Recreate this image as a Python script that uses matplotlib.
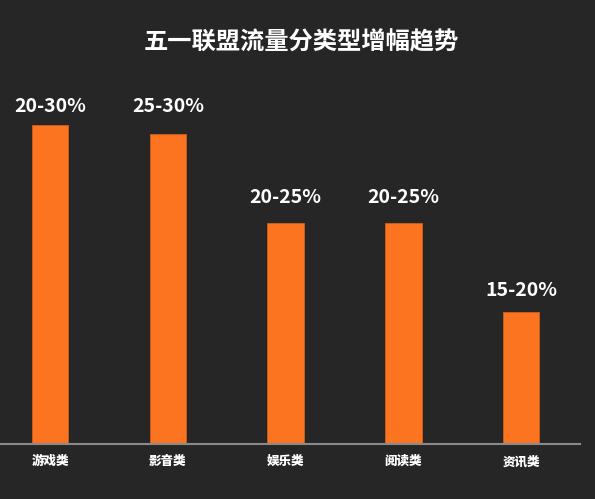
import matplotlib
matplotlib.use('Agg')
import matplotlib.pyplot as plt

# chart data
categories = ['游戏类', '影音类', '娱乐类', '阅读类', '资讯类']
heights = [31.9, 31.0, 22.1, 22.1, 13.2]  # bar heights
labels = ['20-30%', '25-30%', '20-25%', '20-25%', '15-20%']
title = '五一联盟流量分类型增幅趋势'

# gap between bar top and label centre, in points
label_gaps = [13, 19.5, 18.5, 18.5, 15.5]

plt.rcParams['font.family'] = ['Noto Sans CJK SC', 'DejaVu Sans']

bg = '#262626'
bar_color = '#FC7420'

fig = plt.figure(figsize=(5.95, 4.99), dpi=100, facecolor=bg)
ax = fig.add_axes([0, 0.1102, 580 / 595, 0.7295], facecolor=bg)

x = list(range(len(categories)))
bars = ax.bar(x, heights, width=0.31, color=bar_color,
              edgecolor='#d0601a', linewidth=0.6)

# value labels above each bar
for xi, h, lab, gap in zip(x, heights, labels, label_gaps):
    ax.annotate(lab, (xi, h), xytext=(0, gap), textcoords='offset points',
                ha='center', va='center', color='white',
                fontsize=14, fontweight='bold')

# category names under the axis line
for xi, cat in zip(x, categories):
    ax.text(xi, -1.7, cat, ha='center', va='center', color='white',
            fontsize=9, fontweight='heavy', family='Noto Sans CJK JP')

ax.set_xlim(-0.425, 4.50)
ax.set_ylim(0, 36.4)
ax.set_xticks([])
ax.set_yticks([])

for side in ['top', 'right', 'left']:
    ax.spines[side].set_visible(False)
ax.spines['bottom'].set_color('#8a8a8a')
ax.spines['bottom'].set_linewidth(1.5)

fig.text(301 / 595, 1 - 42 / 499, title, ha='center', va='center',
         color='white', fontsize=17.5, fontweight='bold')

fig.savefig('out.png', dpi=100, facecolor=bg)
